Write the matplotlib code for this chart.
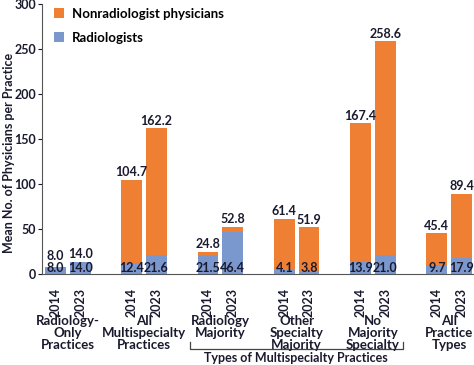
import matplotlib.pyplot as plt
import numpy as np

plt.rcParams['font.family'] = ['Lato', 'DejaVu Sans']
plt.rcParams['font.weight'] = 'bold'

groups = ["Radiology-\nOnly\nPractices", "All\nMultispecialty\nPractices",
          "Radiology\nMajority", "Other\nSpecialty\nMajority",
          "No\nMajority\nSpecialty", "All\nPractice\nTypes"]
years = ["2014", "2023"]
radiologists = [8.0, 14.0, 12.4, 21.6, 21.5, 46.4, 4.1, 3.8, 13.9, 21.0, 9.7, 17.9]
totals = [8.0, 14.0, 104.7, 162.2, 24.8, 52.8, 61.4, 51.9, 167.4, 258.6, 45.4, 89.4]
nonradiologists = [t - r for t, r in zip(totals, radiologists)]

orange = "#EE7F33"
blue = "#7B98CE"
dark = "#1a1a2e"

fig = plt.figure(figsize=(4.74, 3.65), dpi=100)
ax = fig.add_axes([0.088, 0.249, 0.912, 0.74])

gap = 3.08
x = np.array([g * gap + k for g in range(len(groups)) for k in range(2)], dtype=float)
w = 0.84

ax.bar(x, radiologists, w, color=blue, label="Radiologists")
ax.bar(x, nonradiologists, w, bottom=radiologists, color=orange, label="Nonradiologist physicians")

for xi, r, t in zip(x, radiologists, totals):
    ax.text(xi, 0.6, f"{r:.1f}", ha="center", va="bottom", fontsize=9, color=dark, fontweight="bold")
    ax.text(xi, max(t, 11.5) + 1.5, f"{t:.1f}", ha="center", va="bottom", fontsize=9,
            color=dark, fontweight="bold")

ax.set_xlim(x[0] - 0.55, x[-1] + 0.5)
ax.set_ylim(0, 300)
ax.set_yticks([0, 50, 100, 150, 200, 250, 300])
ax.set_xticks(x)
ax.set_xticklabels(years * len(groups), rotation=90, fontsize=9, fontweight="bold", color=dark)
ax.tick_params(axis="x", length=0, pad=10)
ax.tick_params(axis="y", length=3, labelsize=9, colors=dark, pad=1)
for lab in ax.get_yticklabels():
    lab.set_fontweight("bold")
ax.spines["top"].set_visible(False)
ax.spines["right"].set_visible(False)
ax.spines["left"].set_color("#555555")
ax.spines["bottom"].set_color("#555555")

ax.set_ylabel("Mean No. of Physicians per Practice", fontsize=9, fontweight="bold", color=dark)
ax.yaxis.set_label_coords(-0.062, 0.45)

trans = ax.get_xaxis_transform()
for g, name in enumerate(groups):
    cx = g * gap + 0.5
    ax.text(cx, -0.15, name, transform=trans, ha="center", va="top", fontsize=9.5,
            fontweight="bold", color=dark, linespacing=1.0)

# bracket under the multispecialty subtypes
bx0 = 2 * gap - 0.73
bx1 = 4 * gap + 1.7
ax.plot([bx0, bx0, bx1, bx1], [-0.25, -0.278, -0.278, -0.25], transform=trans,
        color="#444444", lw=0.9, clip_on=False)
ax.text((bx0 + bx1) / 2, -0.287, "Types of Multispecialty Practices", transform=trans,
        ha="center", va="top", fontsize=9, fontweight="bold", color=dark)

handles, labels = ax.get_legend_handles_labels()
ax.legend(handles[::-1], labels[::-1], loc="upper left", bbox_to_anchor=(0.0, 1.03),
          frameon=False, handlelength=0.8, handleheight=0.8,
          labelspacing=0.9, handletextpad=0.6, prop={"weight": "bold", "size": 9.5})

fig.savefig("out.png", dpi=100)
